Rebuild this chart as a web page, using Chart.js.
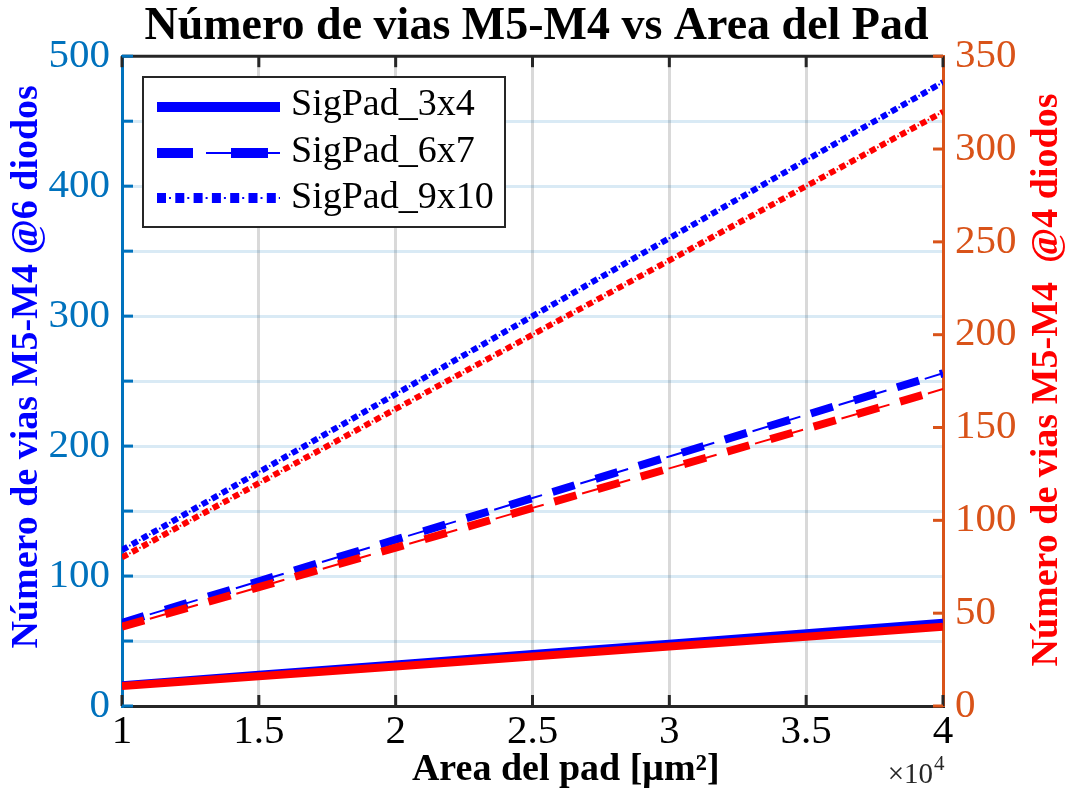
<!DOCTYPE html>
<html><head><meta charset="utf-8">
<script src="https://cdn.jsdelivr.net/npm/chart.js@4.4.1/dist/chart.umd.min.js"></script>
<style>html,body{margin:0;padding:0;background:#fff;overflow:hidden}#wrap{width:1073px;height:793px;position:relative}</style>
</head><body><div id="wrap"><canvas id="c" width="1073" height="793"></canvas></div>
<script>
// ---- data ----
const areaVals = [1, 1.5, 2, 2.5, 3, 3.5, 4];           // x (×10^4 µm²)
const leftTicks = [0, 100, 200, 300, 400, 500];
const rightTicks = [0, 50, 100, 150, 200, 250, 300, 350];
const seriesNames = ['SigPad_3x4', 'SigPad_6x7', 'SigPad_9x10'];
// @6 diodos (left axis)
const blue3x4  = [16, 24, 32, 40, 48, 56, 64];
const blue6x7  = [64, 96, 128, 160, 192, 224, 256];
const blue9x10 = [120, 180, 240, 300, 360, 420, 480];
// @4 diodos (right axis)
const red3x4  = [10.7, 16, 21.3, 26.7, 32, 37.3, 42.7];
const red6x7  = [42.7, 64, 85.3, 106.7, 128, 149.3, 170.7];
const red9x10 = [80, 120, 160, 200, 240, 280, 320];

const BLUE = '#0000FF', RED = '#FF0000';
const AX_BLUE = '#0072BD', AX_ORANGE = '#D95319', AX_BLACK = '#262626';
const SERIF = '"Liberation Serif", "Times New Roman", serif';

const pts = ys => ys.map((y, i) => ({x: areaVals[i], y}));
function line(data, axis, color, width, dash, offset) {
  return {data: pts(data), yAxisID: axis, borderColor: color, backgroundColor: color,
    borderWidth: width, borderDash: dash || [], borderDashOffset: offset || 0,
    pointRadius: 0, fill: false, tension: 0, clip: 0, borderCapStyle: 'butt'};
}
const DASH_THICK = [23, 22], DASH_THIN = [50, 40], DASH_THIN_OFF = 61;
const DOT_THICK = [6.5, 5], DOT_THIN = [1.5, 10], DOT_THIN_OFF = 3.25;

const datasets = [
  line(blue3x4, 'y', BLUE, 8),
  line(blue6x7, 'y', BLUE, 8, DASH_THICK),
  line(blue6x7, 'y', BLUE, 2, DASH_THIN, DASH_THIN_OFF),
  line(blue9x10, 'y', BLUE, 6, DOT_THICK),
  line(blue9x10, 'y', BLUE, 2, DOT_THIN, DOT_THIN_OFF),
  line(red3x4, 'y2', RED, 8),
  line(red6x7, 'y2', RED, 8, DASH_THICK),
  line(red6x7, 'y2', RED, 2, DASH_THIN, DASH_THIN_OFF),
  line(red9x10, 'y2', RED, 6, DOT_THICK),
  line(red9x10, 'y2', RED, 2, DOT_THIN, DOT_THIN_OFF)
];
// draw in list order (later entries on top)
datasets.forEach((d, i) => { d.order = datasets.length - i; });

const decor = {
  id: 'decor',
  beforeDraw(chart) {
    const c = chart.ctx; c.save(); c.fillStyle = '#fff'; c.fillRect(0, 0, chart.width, chart.height); c.restore();
  },
  afterDraw(chart) {
    const c = chart.ctx, a = chart.chartArea, xs = chart.scales.x, y = chart.scales.y, y2 = chart.scales.y2;
    const seg = (x1, y1, x2, y2_) => { c.beginPath(); c.moveTo(x1, y1); c.lineTo(x2, y2_); c.stroke(); };
    c.save();
    c.lineWidth = 3; c.setLineDash([]);
    c.strokeStyle = AX_BLACK;
    seg(a.left, a.top, a.right, a.top);
    xs.ticks.forEach(t => { const p = xs.getPixelForValue(t.value); seg(p, a.bottom, p, a.bottom - 11); seg(p, a.top, p, a.top + 11); });
    c.strokeStyle = AX_BLUE;
    y.ticks.forEach(t => { const p = y.getPixelForValue(t.value); seg(a.left, p, a.left + 11, p); });
    c.strokeStyle = AX_ORANGE;
    y2.ticks.forEach(t => { const p = y2.getPixelForValue(t.value); seg(a.right, p, a.right - 10, p); });

    // right axis label (reads bottom-to-top)
    c.save();
    c.translate(1047, 380); c.rotate(-Math.PI / 2);
    c.fillStyle = RED; c.font = 'bold 38px ' + SERIF; c.textAlign = 'center'; c.textBaseline = 'middle';
    c.fillText('Número de vias M5-M4  @4 diodos', 0, 0);
    c.restore();

    // ×10^4 exponent
    c.fillStyle = AX_BLACK; c.textBaseline = 'alphabetic';
    c.font = '29px ' + SERIF; c.textAlign = 'right'; c.fillText('×10', 933, 783);
    c.font = '21px ' + SERIF; c.textAlign = 'left'; c.fillText('4', 934, 770);

    // legend
    const L = 143, T = 77, R = 505, B = 227;
    c.fillStyle = '#fff'; c.fillRect(L, T, R - L, B - T);
    c.strokeStyle = AX_BLACK; c.lineWidth = 2; c.strokeRect(L, T, R - L, B - T);
    c.strokeStyle = BLUE; c.lineCap = 'butt';
    c.lineWidth = 10; seg(157, 107, 280, 107);
    c.lineWidth = 10; seg(157, 153, 193, 153); seg(231, 153, 268, 153);
    c.lineWidth = 2; seg(206, 153, 280, 153);
    c.lineWidth = 10; c.setLineDash([9, 9.3]); seg(157, 198, 280, 198);
    c.lineWidth = 2; c.setLineDash([2, 16.3]); c.lineDashOffset = -12; seg(157, 198, 280, 198);
    c.setLineDash([]);
    c.fillStyle = '#000'; c.font = '38px ' + SERIF; c.textAlign = 'left'; c.textBaseline = 'alphabetic';
    c.fillText(seriesNames[0], 291, 115);
    c.fillText(seriesNames[1], 291, 162);
    c.fillText(seriesNames[2], 291, 208);
    c.restore();
  }
};

new Chart(document.getElementById('c'), {
  type: 'line',
  data: {datasets},
  plugins: [decor],
  options: {
    responsive: false, animation: false, devicePixelRatio: 1,
    layout: {padding: 0},
    plugins: {
      legend: {display: false}, tooltip: {enabled: false},
      title: {display: true, text: 'Número de vias M5-M4 vs Area del Pad', color: '#000',
        font: {family: SERIF, size: 46, weight: 'bold'}, padding: {top: 0, bottom: 1}}
    },
    scales: {
      x: {type: 'linear', position: 'bottom', min: 1, max: 4,
        afterBuildTicks: s => { s.ticks = areaVals.map(v => ({value: v})); },
        afterFit: s => { s.height = 87; },
        ticks: {color: '#000', font: {family: SERIF, size: 41}, padding: 2, maxRotation: 0, autoSkip: false,
          callback: v => String(v)},
        grid: {drawTicks: false, lineWidth: 3,
          color: ctx => (ctx.tick && (ctx.tick.value === 1 || ctx.tick.value === 4)) ? 'rgba(0,0,0,0)' : 'rgba(0,0,0,0.15)'},
        border: {color: AX_BLACK, width: 3},
        title: {display: true, text: '       Area del pad [μm²]', color: '#000',
          font: {family: SERIF, size: 38, weight: 'bold'}, padding: {top: 0, bottom: 0}}
      },
      y: {type: 'linear', position: 'left', min: 0, max: 500,
        afterBuildTicks: s => { const t = []; for (let i = 0; i < leftTicks.length; i++) { t.push({value: leftTicks[i]}); if (i < leftTicks.length - 1) t.push({value: (leftTicks[i] + leftTicks[i + 1]) / 2}); } s.ticks = t; },
        afterFit: s => { s.width = 122; },
        ticks: {color: AX_BLUE, font: {family: SERIF, size: 41}, padding: 12, autoSkip: false,
          callback: v => leftTicks.includes(v) ? String(v) : ''},
        grid: {drawTicks: false, lineWidth: 3,
          color: ctx => (ctx.tick && (ctx.tick.value === 0 || ctx.tick.value === 500)) ? 'rgba(0,0,0,0)' : 'rgba(0,114,189,0.15)'},
        border: {color: AX_BLUE, width: 3},
        title: {display: true, text: '   Número de vias M5-M4 @6 diodos', color: BLUE,
          font: {family: SERIF, size: 38, weight: 'bold'}, padding: {top: 4, bottom: 0}}
      },
      y2: {type: 'linear', position: 'right', min: 0, max: 350,
        afterBuildTicks: s => { s.ticks = rightTicks.map(v => ({value: v})); },
        afterFit: s => { s.width = 130; },
        ticks: {color: AX_ORANGE, font: {family: SERIF, size: 41}, padding: 12, autoSkip: false},
        grid: {drawOnChartArea: false, drawTicks: false},
        border: {color: AX_ORANGE, width: 3},
        title: {display: false}
      }
    }
  }
});
</script></body></html>
